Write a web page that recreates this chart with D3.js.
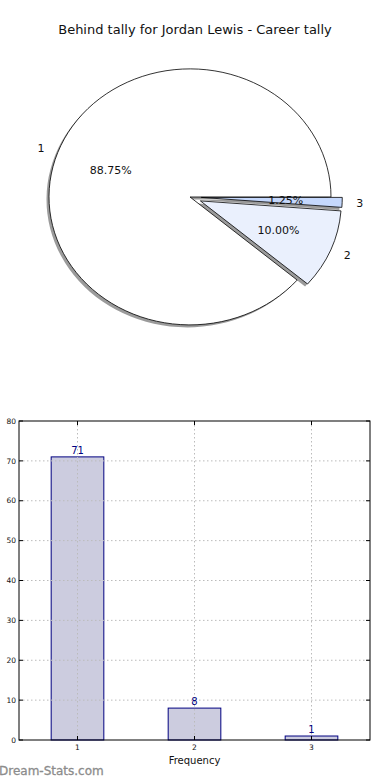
<!DOCTYPE html>
<html>
<head>
<meta charset="utf-8">
<script src="https://cdn.jsdelivr.net/npm/d3@7"></script>
<style>
  body { margin: 0; background: #fff; }
  svg { display: block; font-family: "DejaVu Sans", sans-serif; }
</style>
</head>
<body>
<div id="chart"></div>
<script>
// Daten
const categories = ["1", "2", "3"];
const counts = [71, 8, 1];
const sliceColors = ["#ffffff", "#eaf0fd", "#c5d8fc"];
const explode = [0, 0.08, 0.08];
const yTicks = [0, 10, 20, 30, 40, 50, 60, 70, 80];

const W = 390, H = 780;
const svg = d3.select("#chart").append("svg").attr("width", W).attr("height", H);

// Titel
svg.append("text")
  .attr("x", 195).attr("y", 34)
  .attr("text-anchor", "middle")
  .attr("font-size", 13).attr("fill", "#111")
  .text("Behind tally for Jordan Lewis - Career tally");

// --- Pie (elliptisch, wie matplotlib: Start bei 0°, gegen den Uhrzeigersinn) ---
const CX = 190, CY = 197, RX = 141, RY = 128;
const total = d3.sum(counts);
const pie = d3.pie().sort(null)(counts);
const slices = pie.map((p, i) => ({
  i,
  t1: p.startAngle,
  t2: p.endAngle,
  mid: (p.startAngle + p.endAngle) / 2,
  value: p.value
}));
const arcGen = d3.arc().innerRadius(0).outerRadius(1);
const pieG = svg.append("g");

function center(s) {
  return [CX + explode[s.i] * RX * Math.cos(s.mid), CY - explode[s.i] * RY * Math.sin(s.mid)];
}
// d3-Winkel (im Uhrzeigersinn ab 12 Uhr) → matplotlib-Winkel (gegen Uhrzeigersinn ab 3 Uhr)
function wedgePath(s) {
  return arcGen({ startAngle: Math.PI / 2 - s.t2, endAngle: Math.PI / 2 - s.t1 });
}

// Schatten
slices.forEach(s => {
  const [x, y] = center(s);
  pieG.append("path")
    .attr("transform", `translate(${x - 2.5},${y + 2.5}) scale(${RX},${RY})`)
    .attr("d", wedgePath(s))
    .attr("fill", "#8a8a8a").attr("opacity", 0.85);
});
slices.forEach(s => {
  const [x, y] = center(s);
  pieG.append("path")
    .attr("transform", `translate(${x},${y}) scale(${RX},${RY})`)
    .attr("d", wedgePath(s))
    .attr("fill", sliceColors[s.i])
    .attr("stroke", "#000").attr("stroke-width", 0.8)
    .attr("vector-effect", "non-scaling-stroke");
});
slices.forEach(s => {
  const [x, y] = center(s);
  const c = Math.cos(s.mid), sn = Math.sin(s.mid);
  pieG.append("text")
    .attr("x", x + 1.1 * RX * c).attr("y", y - 1.1 * RY * sn)
    .attr("dy", "0.35em")
    .attr("text-anchor", c < 0 ? "end" : "start")
    .attr("font-size", 11).attr("fill", "#111")
    .text(categories[s.i]);
  pieG.append("text")
    .attr("x", x + 0.6 * RX * c).attr("y", y - 0.6 * RY * sn)
    .attr("dy", "0.35em")
    .attr("text-anchor", "middle")
    .attr("font-size", 11).attr("fill", "#111")
    .text((s.value / total * 100).toFixed(2) + "%");
});

// --- Balkendiagramm ---
const L = 19, R = 370, T = 421, B = 740;
const x = d3.scaleLinear().domain([0.5, 3.5]).range([L, R]);
const y = d3.scaleLinear().domain([0, 80]).range([B, T]);
const barW = x(1.45) - x(1);
const bar = svg.append("g");

bar.selectAll("rect.bar").data(counts).join("rect")
  .attr("class", "bar")
  .attr("x", (d, i) => x(i + 1) - barW / 2)
  .attr("y", d => y(d))
  .attr("width", barW)
  .attr("height", d => B - y(d))
  .attr("fill", "#ccccdf")
  .attr("stroke", "#000080").attr("stroke-width", 1);

// Gitter (über den Balken)
bar.selectAll("line.gy").data(yTicks.slice(1, -1)).join("line")
  .attr("x1", L).attr("x2", R)
  .attr("y1", d => y(d)).attr("y2", d => y(d))
  .attr("stroke", "#bbb").attr("stroke-dasharray", "1.5,2.5");
bar.selectAll("line.gx").data(categories).join("line")
  .attr("x1", (d, i) => x(i + 1)).attr("x2", (d, i) => x(i + 1))
  .attr("y1", T).attr("y2", B)
  .attr("stroke", "#bbb").attr("stroke-dasharray", "1.5,2.5");

bar.selectAll("text.val").data(counts).join("text")
  .attr("x", (d, i) => x(i + 1)).attr("y", d => y(d) - 3)
  .attr("text-anchor", "middle")
  .attr("font-size", 10).attr("fill", "#000080")
  .text(d => d);

// Rahmen
bar.append("rect")
  .attr("x", L).attr("y", T).attr("width", R - L).attr("height", B - T)
  .attr("fill", "none").attr("stroke", "#000").attr("stroke-width", 1);

// Ticks innen, alle vier Seiten
yTicks.forEach(t => {
  bar.append("line").attr("x1", L).attr("x2", L + 4).attr("y1", y(t)).attr("y2", y(t)).attr("stroke", "#000");
  bar.append("line").attr("x1", R - 4).attr("x2", R).attr("y1", y(t)).attr("y2", y(t)).attr("stroke", "#000");
  bar.append("text")
    .attr("x", L - 3).attr("y", y(t)).attr("dy", "0.35em")
    .attr("text-anchor", "end").attr("font-size", 7.5).attr("fill", "#111")
    .text(t);
});
categories.forEach((c, i) => {
  bar.append("line").attr("x1", x(i + 1)).attr("x2", x(i + 1)).attr("y1", B - 4).attr("y2", B).attr("stroke", "#000");
  bar.append("line").attr("x1", x(i + 1)).attr("x2", x(i + 1)).attr("y1", T).attr("y2", T + 4).attr("stroke", "#000");
  bar.append("text")
    .attr("x", x(i + 1)).attr("y", B + 10)
    .attr("text-anchor", "middle").attr("font-size", 7.5).attr("fill", "#111")
    .text(c);
});

svg.append("text")
  .attr("x", (L + R) / 2).attr("y", 764)
  .attr("text-anchor", "middle").attr("font-size", 10).attr("fill", "#111")
  .text("Frequency");

svg.append("text")
  .attr("x", -1).attr("y", 775)
  .attr("font-size", 12).attr("fill", "#8c8c8c")
  .attr("stroke", "#8c8c8c").attr("stroke-width", 0.3)
  .text("Dream-Stats.com");
</script>
</body>
</html>
